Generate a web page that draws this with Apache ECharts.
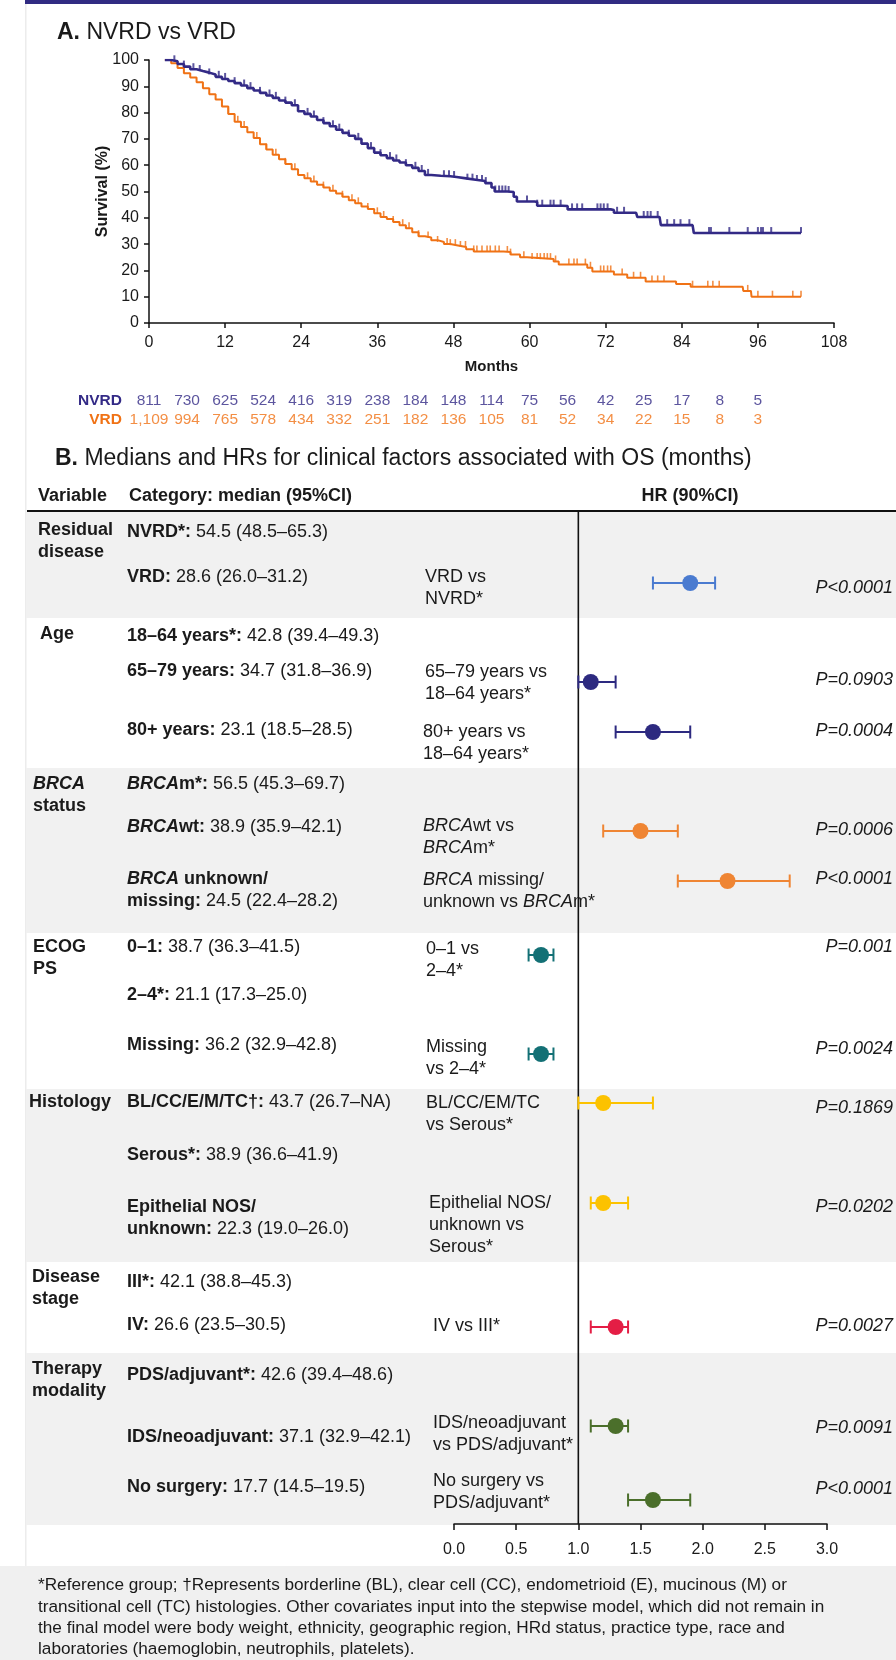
<!DOCTYPE html>
<html><head><meta charset="utf-8">
<script src="https://cdn.jsdelivr.net/npm/echarts@6/dist/echarts.min.js"></script>
<style>html,body{margin:0;padding:0;background:#fff}#c{width:896px;height:1660px}</style>
</head><body><div id="c"></div>
<script>
// ---------------- DATA ----------------
// Panel A: Kaplan-Meier curves (months, survival %)
const nvrdMonths = [2.5,3.5,4.5,5.5,6.5,7.5,8.5,9.5,10.5,11.5,12.5,13.5,14.5,15.5,16.5,17.5,18.5,19.5,20.5,21.5,22.5,23.5,24.5,25.5,26.5,27.5,28.5,29.5,30.5,31.5,32.5,33.5,34.5,35.5,36.5,37.5,38.5,39.5,40.5,41.5,42.5,43.5,44.5,46,47.5,48.5,50,51.5,53,54,54.5,56.5,57.5,58,60.8,61.2,65.2,66,72.8,73.3,76.8,77,80.5,80.7,85.7,85.9,102.8];
const nvrdSurv   = [100,99.5,98.5,97.5,96.5,95.8,95.2,94.5,93.6,92.8,92.0,91.2,90.3,89.3,88.4,87.5,86.5,85.6,84.6,83.8,82.8,80.5,79.5,78.5,77.2,76.0,74.8,73.5,72.3,71.2,70.0,68.2,66.5,64.8,63.8,62.7,61.8,61.0,60.0,59.0,57.8,56.3,56.0,55.8,55.5,55.0,54.5,54.0,53.2,51.5,50.0,49.8,48.0,46.2,46.0,44.6,44.5,43.2,43.0,41.9,41.8,40.3,40.3,37.2,37.2,34.2,34.2];
const vrdMonths  = [2.5,3.5,4.5,5.5,6.5,7.5,8.5,9.5,10.5,11.5,12.5,13.5,14.5,15.5,16.5,17.5,18.5,19.5,20.5,21.5,22.5,23.5,24.5,25.5,26.5,27.5,28.5,29.5,30.5,31.5,32.5,33.5,34.5,35.5,36.5,37.5,38.5,39.5,40.5,41.5,42.5,43.5,44.5,45.5,46.5,47.5,48.5,50,51.2,55.9,57,58.5,59.6,63.8,64.6,69.1,69.9,73.3,75.4,78.3,83.1,85.4,93.6,93.7,94.9,95,102.8];
const vrdSurv    = [100,98.8,97.0,95.0,93.3,91.5,89.3,87.0,85.0,82.3,79.5,76.5,74.5,72.5,70.3,68.0,66.0,64.0,62.3,60.5,58.5,56.3,55.0,53.8,52.6,51.5,50.3,49.2,48.0,46.7,45.5,44.3,43.3,41.7,40.3,39.5,38.4,37.2,36.0,34.5,33.0,32.5,31.5,30.8,30.0,29.6,28.9,28.0,27.2,27.0,26.0,25.0,24.3,23.4,22.2,21.0,19.6,18.4,17.2,15.8,14.8,13.8,13.8,12.2,12.2,10.0,10.0];
const nvrdCensor = [4,5.5,7,8,9.5,11,12,13.5,15,16,17.5,19,20,21.5,23,25,26,27.5,29,30,31.5,33,35,36.5,38,39,40.5,42,43,44,46.5,47.3,48.1,50.2,51,51.7,52.5,53.1,54.6,55.2,55.7,56.2,56.7,59.6,61.2,62,63.3,63.8,64.9,66.7,67.5,68.3,70.7,71.2,71.7,72.3,73.8,74.9,78,78.6,79.1,80.2,81.7,82.8,83.8,85.2,88.3,88.6,91.5,94.4,96,96.5,96.8,98.1,102.8];
const vrdCensor  = [12.5,14,15,17,18.5,20,21.5,23,25,26,27.5,29,30.5,32,33,34.5,36,37,38.5,40,41,42.5,44,45.5,47,47.5,48.3,49.1,49.9,51.2,51.7,52.5,53.3,53.8,54.6,55.2,56.5,57,59.1,60.4,61.2,61.7,62.3,62.8,63.3,64.1,66.2,67,67.5,68.8,69.6,71.2,71.7,72.3,72.8,74.6,76.4,77.5,79.3,80.2,81.2,85.7,88.1,88.9,89.9,94.4,96,98.3,101.5,102.8];
// Numbers at risk
const riskMonths = [0,6,12,18,24,30,36,42,48,54,60,66,72,78,84,90,96];
const riskNVRD = [811,730,625,524,416,319,238,184,148,114,75,56,42,25,17,8,5];
const riskVRD  = [1109,994,765,578,434,332,251,182,136,105,81,52,34,22,15,8,3];
const riskRows = ['NVRD','VRD'];

// Panel B: medians table
const variables = ['Residual\ndisease','Age','BRCA\nstatus','ECOG\nPS','Histology','Disease\nstage','Therapy\nmodality'];
const categories = ['NVRD*','VRD','18–64 years*','65–79 years','80+ years','BRCAm*','BRCAwt','BRCA unknown/\nmissing','0–1','2–4*','Missing','BL/CC/E/M/TC†','Serous*','Epithelial NOS/\nunknown','III*','IV','PDS/adjuvant*','IDS/neoadjuvant','No surgery'];
const medians    = ['54.5','28.6','42.8','34.7','23.1','56.5','38.9','24.5','38.7','21.1','36.2','43.7','38.9','22.3','42.1','26.6','42.6','37.1','17.7'];
const medianLow  = ['48.5','26.0','39.4','31.8','18.5','45.3','35.9','22.4','36.3','17.3','32.9','26.7','36.6','19.0','38.8','23.5','39.4','32.9','14.5'];
const medianHigh = ['65.3','31.2','49.3','36.9','28.5','69.7','42.1','28.2','41.5','25.0','42.8','NA','41.9','26.0','45.3','30.5','48.6','42.1','19.5'];
// Panel B: hazard ratios
const comparisons = ['VRD vs\nNVRD*','65–79 years vs\n18–64 years*','80+ years vs\n18–64 years*','BRCAwt vs\nBRCAm*','BRCA missing/\nunknown vs BRCAm*','0–1 vs\n2–4*','Missing\nvs 2–4*','BL/CC/EM/TC\nvs Serous*','Epithelial NOS/\nunknown vs\nSerous*','IV vs III*','IDS/neoadjuvant\nvs PDS/adjuvant*','No surgery vs\nPDS/adjuvant*'];
const hr     = [1.9,1.1,1.6,1.5,2.2,0.7,0.7,1.2,1.2,1.3,1.3,1.6];
const hrLow  = [1.6,1.0,1.3,1.2,1.8,0.6,0.6,1.0,1.1,1.1,1.1,1.4];
const hrHigh = [2.1,1.3,1.9,1.8,2.7,0.8,0.8,1.6,1.4,1.4,1.4,1.9];
const pValues = ['P<0.0001','P=0.0903','P=0.0004','P=0.0006','P<0.0001','P=0.001','P=0.0024','P=0.1869','P=0.0202','P=0.0027','P=0.0091','P<0.0001'];
const compGroup = [0,1,1,2,2,3,3,4,4,5,6,6];

// ---------------- LAYOUT & STYLE ----------------
const FONT = "'Liberation Sans', Arial, Helvetica, sans-serif";
const INK = '#1a1a1a';
const NAVY = '#332a86';
const ORANGE = '#f07215';
const groupColors = ['#4a7bd0','#2d2a80','#ef8533','#137075','#fcc200','#e41e45','#4b6f2b'];
const groupBand = [[512,618],[618,768],[768,933],[933,1089],[1089,1262],[1262,1353],[1353,1525]];
const groupShaded = [true,false,true,false,true,false,true];
const groupLabelX = [38,40,33,33,29,32,32];
const groupLabelY = [530,634,784,947,1102,1277,1369];
const categoryY = [532,577,636,671,730,784,827,879,947,995,1045,1102,1155,1207,1282,1325,1375,1437,1487];
const compTextX = [425,425,423,423,423,426,426,426,429,433,433,433];
const compTextY = [577,672,732,826,880,949,1047,1103,1203,1326,1423,1481];
const compMarkY = [583,682,732,831,881,955,1054,1103,1203,1327,1426,1500];
const pY = [588,680,731,830,879,947,1049,1108,1207,1326,1428,1489];
const TABLE_TOP = 512, TABLE_BOTTOM = 1524;

const RICH = {
  b:  {fontWeight:'bold', fontSize:18, fontFamily:FONT, fill:INK, lineHeight:22},
  bi: {fontWeight:'bold', fontStyle:'italic', fontSize:18, fontFamily:FONT, fill:INK, lineHeight:22},
  i:  {fontStyle:'italic', fontSize:18, fontFamily:FONT, fill:INK, lineHeight:22},
  tb: {fontWeight:'bold', fontSize:23, fontFamily:FONT, fill:INK, lineHeight:26}
};

function italicBRCA(s, base, ital) {
  const parts = s.split('BRCA');
  let out = '';
  parts.forEach((p, k) => {
    if (k > 0) out += '{' + ital + '|BRCA}';
    if (p.length) out += base ? '{' + base + '|' + p + '}' : p;
  });
  return out;
}

function txt(x, yTop, text, extra) {
  return {
    type: 'text', x: x, y: yTop, z: 20, silent: true,
    style: Object.assign({
      text: text, fontFamily: FONT, fontSize: 18, fill: INK,
      textAlign: 'left', align: 'left', textVerticalAlign: 'top', verticalAlign: 'top',
      lineHeight: 22, rich: RICH
    }, extra || {})
  };
}
function row(x, yCenter, text, extra) { return txt(x, yCenter - 11, text, extra); }

function survAt(months, surv, t) {
  let s = surv[0];
  for (let i = 0; i < months.length; i++) if (months[i] <= t) s = surv[i];
  return s;
}

// ---------------- GRAPHIC ELEMENTS ----------------
const graphics = [];
graphics.push({type:'rect', z:0, silent:true, shape:{x:0, y:1566, width:896, height:94}, style:{fill:'#f0f0f0'}});
graphics.push({type:'rect', z:0, silent:true, shape:{x:25, y:4, width:1.5, height:1562}, style:{fill:'#ececec'}});
graphics.push({type:'rect', z:1, silent:true, shape:{x:25, y:0, width:871, height:4}, style:{fill:'#312b82'}});
groupBand.forEach((b, g) => {
  if (groupShaded[g]) graphics.push({type:'rect', z:0, silent:true, shape:{x:26, y:b[0], width:870, height:b[1]-b[0]}, style:{fill:'#f1f1f1'}});
});
graphics.push({type:'rect', z:5, silent:true, shape:{x:27, y:510, width:869, height:2}, style:{fill:'#111'}});
graphics.push(txt(57, 20, '{tb|A.} NVRD vs VRD', {fontSize:23, lineHeight:26}));
graphics.push(txt(55, 446, '{tb|B.} Medians and HRs for clinical factors associated with OS (months)', {fontSize:23, lineHeight:26}));
graphics.push(row(38, 496, 'Variable', {fontWeight:'bold'}));
graphics.push(row(129, 496, 'Category: median (95%CI)', {fontWeight:'bold'}));
graphics.push(row(690, 496, 'HR (90%CI)', {fontWeight:'bold', textAlign:'center', align:'center'}));
variables.forEach((v, g) => {
  graphics.push(row(groupLabelX[g], groupLabelY[g], italicBRCA(v, 'b', 'bi')));
});
categories.forEach((c, k) => {
  const s = italicBRCA(c + ':', 'b', 'bi') + ' ' + medians[k] + ' (' + medianLow[k] + '–' + medianHigh[k] + ')';
  graphics.push(row(127, categoryY[k], s));
});
comparisons.forEach((c, k) => {
  graphics.push(row(compTextX[k], compTextY[k], italicBRCA(c, '', 'i')));
  graphics.push(row(893, pY[k], '{i|' + pValues[k] + '}', {textAlign:'right', align:'right'}));
});
graphics.push(txt(38, 1575,
  '*Reference group; †Represents borderline (BL), clear cell (CC), endometrioid (E), mucinous (M) or\n' +
  'transitional cell (TC) histologies. Other covariates input into the stepwise model, which did not remain in\n' +
  'the final model were body weight, ethnicity, geographic region, HRd status, practice type, race and\n' +
  'laboratories (haemoglobin, neutrophils, platelets).',
  {fontSize:17.2, lineHeight:21.2}));

// ---------------- CHART ----------------
const chart = echarts.init(document.getElementById('c'), null, {renderer:'canvas'});
const axisLineBlack = {show:true, lineStyle:{color:'#111', width:1.5}};
const riskLabel = (color) => ({show:true, position:'inside', color:color, fontSize:15.5, fontFamily:FONT,
  formatter:p => p.value[2].toLocaleString('en-US')});

const option = {
  backgroundColor: '#ffffff',
  animation: false,
  textStyle: {fontFamily: FONT},
  graphic: {elements: graphics},
  grid: [
    {left:149, top:60, width:685, height:263, outerBoundsMode:'none', containLabel:false},
    {left:149, top:391, width:685, height:38, outerBoundsMode:'none', containLabel:false},
    {left:454, top:TABLE_TOP, width:373, height:TABLE_BOTTOM-TABLE_TOP, outerBoundsMode:'none', containLabel:false}
  ],
  xAxis: [
    {gridIndex:0, type:'value', min:0, max:108, interval:12,
     axisLine:axisLineBlack, axisTick:{show:true, length:5, lineStyle:{color:'#111', width:1.5}},
     axisLabel:{fontSize:16, color:INK, margin:12, fontFamily:FONT}, splitLine:{show:false},
     name:'Months', nameLocation:'middle', nameGap:36, nameMoveOverlap:false,
     nameTextStyle:{fontWeight:'bold', fontSize:15, color:INK, fontFamily:FONT}},
    {gridIndex:1, type:'value', min:0, max:108, show:false},
    {gridIndex:2, type:'value', min:0, max:3, interval:0.5,
     axisLine:axisLineBlack, axisTick:{show:true, length:6, lineStyle:{color:'#111', width:1.5}},
     axisLabel:{fontSize:16, color:INK, margin:18, fontFamily:FONT, formatter:v => v.toFixed(1)},
     splitLine:{show:false}}
  ],
  yAxis: [
    {gridIndex:0, type:'value', min:0, max:100, interval:10,
     axisLine:axisLineBlack, axisTick:{show:true, length:5, lineStyle:{color:'#111', width:1.5}},
     axisLabel:{fontSize:16, color:INK, margin:10, fontFamily:FONT}, splitLine:{show:false},
     name:'Survival (%)', nameLocation:'middle', nameGap:38, nameMoveOverlap:false,
     nameTextStyle:{fontWeight:'bold', fontSize:16, color:INK, fontFamily:FONT}},
    {gridIndex:1, type:'category', data:riskRows, inverse:true,
     axisLine:{show:false}, axisTick:{show:false}, splitLine:{show:false},
     axisLabel:{show:true, interval:0, hideOverlap:false, fontSize:15.5, fontWeight:'bold', margin:27, fontFamily:FONT,
       color:(v) => v === 'NVRD' ? NAVY : ORANGE}},
    {gridIndex:2, type:'value', min:TABLE_TOP, max:TABLE_BOTTOM, inverse:true, show:false}
  ],
  series: [
    {type:'line', name:'VRD', xAxisIndex:0, yAxisIndex:0, step:'end', symbol:'none',
     data: vrdMonths.map((m,i) => [m, vrdSurv[i]]), lineStyle:{color:ORANGE, width:2}, z:3},
    {type:'line', name:'NVRD', xAxisIndex:0, yAxisIndex:0, step:'end', symbol:'none',
     data: nvrdMonths.map((m,i) => [m, nvrdSurv[i]]), lineStyle:{color:NAVY, width:2.6}, z:4},
    {type:'scatter', xAxisIndex:0, yAxisIndex:0, symbol:'rect', symbolSize:[1.6,6], symbolOffset:[0,-3],
     itemStyle:{color:ORANGE}, z:3,
     data: vrdCensor.map(t => [t, survAt(vrdMonths, vrdSurv, t)])},
    {type:'scatter', xAxisIndex:0, yAxisIndex:0, symbol:'rect', symbolSize:[2,6], symbolOffset:[0,-3],
     itemStyle:{color:NAVY}, z:4,
     data: nvrdCensor.map(t => [t, survAt(nvrdMonths, nvrdSurv, t)])},
    {type:'scatter', xAxisIndex:1, yAxisIndex:1, symbol:'circle', symbolSize:0,
     itemStyle:{color:'rgba(0,0,0,0)'}, z:5,
     data: riskMonths.map((m,i) => [m, 0, riskNVRD[i]]), label:riskLabel(NAVY)},
    {type:'scatter', xAxisIndex:1, yAxisIndex:1, symbol:'circle', symbolSize:0,
     itemStyle:{color:'rgba(0,0,0,0)'}, z:5,
     data: riskMonths.map((m,i) => [m, 1, riskVRD[i]]), label:riskLabel(ORANGE)},
    {type:'line', xAxisIndex:2, yAxisIndex:2, symbol:'none', silent:true,
     data:[[1, TABLE_TOP], [1, TABLE_BOTTOM]], lineStyle:{color:'#111', width:1.6}, z:6},
    {type:'custom', xAxisIndex:2, yAxisIndex:2, z:8,
     data: hr.map((v,i) => [v, hrLow[i], hrHigh[i], compMarkY[i], compGroup[i]]),
     renderItem: (params, api) => {
       const y = api.value(3);
       const p = api.coord([api.value(0), y]);
       const lo = api.coord([api.value(1), y]);
       const hi = api.coord([api.value(2), y]);
       const col = groupColors[api.value(4)];
       const st = {stroke:col, lineWidth:2};
       return {type:'group', children:[
         {type:'line', shape:{x1:lo[0], y1:lo[1], x2:hi[0], y2:hi[1]}, style:st},
         {type:'line', shape:{x1:lo[0], y1:lo[1]-6.5, x2:lo[0], y2:lo[1]+6.5}, style:st},
         {type:'line', shape:{x1:hi[0], y1:hi[1]-6.5, x2:hi[0], y2:hi[1]+6.5}, style:st},
         {type:'circle', shape:{cx:p[0], cy:p[1], r:8}, style:{fill:col}}
       ]};
     }}
  ]
};
chart.setOption(option);
</script></body></html>
